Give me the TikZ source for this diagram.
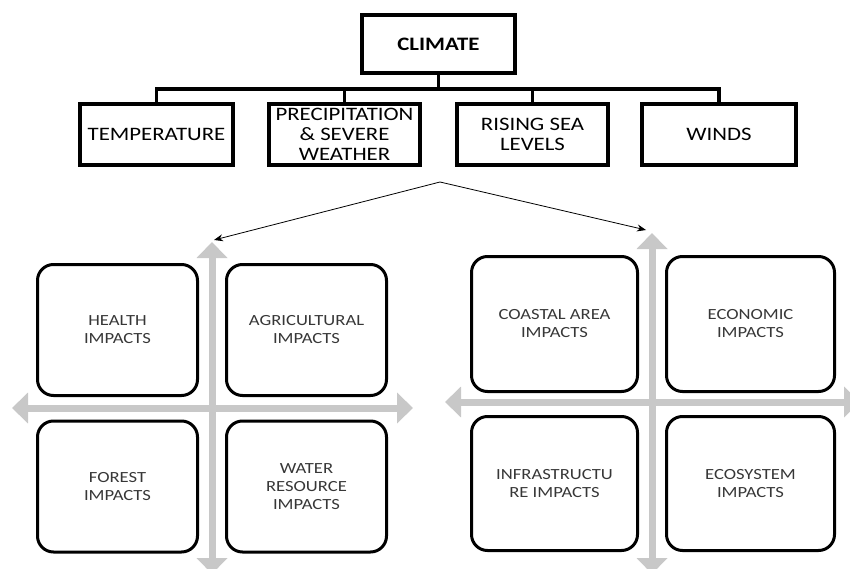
\documentclass[tikz,border=0pt]{standalone}
\usepackage{fontspec}
\setmainfont{Carlito}[FakeStretch=1.2]
\usetikzlibrary{arrows.meta}

\definecolor{axisgray}{RGB}{200,200,200}
\definecolor{labelgray}{RGB}{55,55,55}

\begin{document}
\begin{tikzpicture}[x=1pt, y=-1pt,
  topbox/.style={draw, line width=3.5pt, align=center, inner sep=0pt,
    font=\fontsize{19}{20}\selectfont},
  impact/.style={draw, line width=3pt, rounded corners=16pt, align=center,
    minimum width=160pt, minimum height=131pt, text=labelgray,
    font=\fontsize{15.5}{18}\selectfont},
  link/.style={line width=3.5pt},
  axis/.style={axisgray, line width=7pt,
    {Triangle[width=30pt,length=16pt]}-{Triangle[width=30pt,length=16pt]}},
  pointer/.style={-{Stealth[length=9pt,width=7pt]}, line width=0.8pt}]

\useasboundingbox (0,0) rectangle (850,569);

% Root box
\node[topbox, minimum width=153pt, minimum height=58pt,
  font=\bfseries\fontsize{19}{20}\selectfont] (climate) at (438.5,44) {CLIMATE};

% Second row
\node[topbox, minimum width=153pt, minimum height=61pt] (temp) at (156.5,134.5) {TEMPERATURE};
\node[topbox, minimum width=151pt, minimum height=61pt] (precip) at (344.5,134.5) {PRECIPITATION\\\& SEVERE\\WEATHER};
\node[topbox, minimum width=151pt, minimum height=61pt] (sea) at (532.5,134.5) {RISING SEA\\LEVELS};
\node[topbox, minimum width=154pt, minimum height=61pt] (winds) at (719,134.5) {WINDS};

% Tree lines (bus)
\coordinate (bus) at (438.5,89);
\draw[link] (climate.south) -- (bus);
\draw[link] (temp.north) |- (bus) -| (winds.north);
\draw[link] (precip.north) -- (precip.north |- bus);
\draw[link] (sea.north) -- (sea.north |- bus);

% Split arrows
\coordinate (split) at (440,182);
\coordinate (lefttip) at (214,240);
\coordinate (righttip) at (646,230);
\draw[pointer] (split) -- (lefttip);
\draw[pointer] (split) -- (righttip);

% Left cross
\draw[axis] (12,408) -- (413,408);
\draw[axis] (212,242) -- (212,574);

% Right cross
\draw[axis] (445,402) -- (860,402);
\draw[axis] (652,233) -- (652,574);

% Left impacts
\node[impact] (health) at (117.5,330) {HEALTH\\IMPACTS};
\node[impact] (agri) at (306.5,330) {AGRICULTURAL\\IMPACTS};
\node[impact] (forest) at (117.5,486.5) {FOREST\\IMPACTS};
\node[impact] (water) at (306.5,486.5) {WATER\\RESOURCE\\IMPACTS};

% Right impacts
\node[impact, minimum width=166pt, minimum height=135pt] (coast) at (554.5,324) {COASTAL AREA\\IMPACTS};
\node[impact, minimum width=168pt, minimum height=135pt] (econ) at (750.5,324) {ECONOMIC\\IMPACTS};
\node[impact, minimum width=166pt, minimum height=134pt] (infra) at (554.5,483.5) {INFRASTRUCTU\\RE IMPACTS};
\node[impact, minimum width=168pt, minimum height=134pt] (eco) at (750.5,483.5) {ECOSYSTEM\\IMPACTS};

\end{tikzpicture}
\end{document}
